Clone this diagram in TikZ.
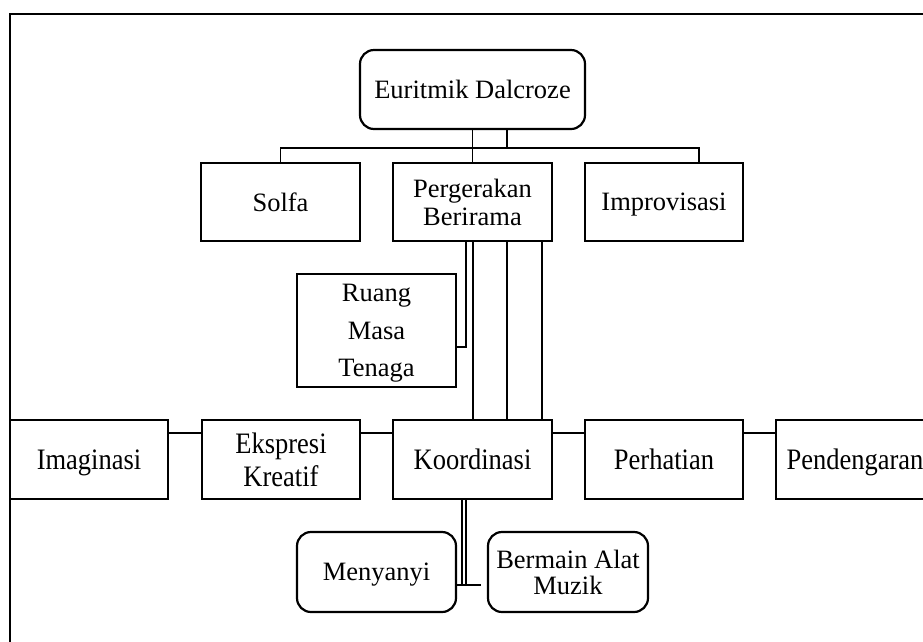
\documentclass[tikz,border=0pt]{standalone}
\usepackage{fontspec}
\usepackage{graphicx}
\setmainfont{Liberation Serif}
\tikzset{
  box/.style={draw, line width=2.2pt, rectangle, inner sep=0pt, align=center,
    font=\fontsize{26.5}{28}\selectfont, text depth=0pt},
  rbox/.style={box, rounded corners=14pt},
  conn/.style={line width=1.8pt},
  thinconn/.style={line width=1.2pt},
  frame/.style={line width=2pt}
}
\newcommand{\tall}[1]{\scalebox{1}[1.12]{#1}}
\begin{document}
\begin{tikzpicture}[x=1pt,y=-1pt]
\useasboundingbox (0,0) rectangle (923,641);
\draw[frame] (10,660) -- (10,14) -- (940,14);

\node[rbox, minimum width=225pt, minimum height=79pt] (eur) at (472.5,89.5) {Euritmik Dalcroze};
\node[box, minimum width=159pt, minimum height=78pt] (solfa) at (280.5,202) {Solfa};
\node[box, minimum width=159pt, minimum height=78pt] (perg) at (472.5,202) {Pergerakan\\Berirama};
\node[box, minimum width=158pt, minimum height=78pt] (impr) at (664,202) {Improvisasi};
\node[box, minimum width=159pt, minimum height=113pt, font=\fontsize{26.5}{37.5}\selectfont] (ruang) at (376.5,330.5) {Ruang\\Masa\\Tenaga};

\node[box, minimum width=158pt, minimum height=79pt] (imag) at (89,459.5) {\tall{Imaginasi}};
\node[box, minimum width=158pt, minimum height=79pt, font=\fontsize{26.5}{33}\selectfont] (eksp) at (281,459.5) {\tall{Ekspresi}\\\tall{Kreatif}};
\node[box, minimum width=159pt, minimum height=79pt] (koor) at (472.5,459.5) {\tall{Koordinasi}};
\node[box, minimum width=158pt, minimum height=79pt] (perh) at (664,459.5) {\tall{Perhatian}};
\node[box, minimum width=158pt, minimum height=79pt] (pend) at (855,459.5) {\tall{Pendengaran}};

\node[rbox, minimum width=159pt, minimum height=80pt] (meny) at (376.5,572) {Menyanyi};
\node[rbox, minimum width=160pt, minimum height=80pt, font=\fontsize{26.5}{26}\selectfont] (berm) at (568,572) {Bermain Alat\\Muzik};

% top connectors
\coordinate (busL) at (280.5,148);
\coordinate (busR) at (699,148);
\draw[conn] (eur.south) -- (perg.north);
\draw[conn] ([xshift=34.5pt]eur.south) -- ([xshift=34.5pt]eur.south |- busL);
\draw[conn] (solfa.north) -- (busL) -- (busR) -- (busR |- impr.north);

% Pergerakan to Ruang
\draw[thinconn] ([xshift=-6.5pt]perg.south) |- ([yshift=-16.5pt]ruang.east);

% Pergerakan to Koordinasi
\draw[line width=2pt] (perg.south) -- (koor.north);
\draw[conn] ([xshift=34.5pt]perg.south) -- ([xshift=34.5pt]koor.north);
\draw[thinconn] ([xshift=69.5pt]perg.south) -- ([xshift=69.5pt]koor.north);

% row connectors
\draw[conn] ([yshift=26.5pt]imag.east) -- ([yshift=26.5pt]eksp.west);
\draw[conn] ([yshift=26.5pt]eksp.east) -- ([yshift=26.5pt]koor.west);
\draw[conn] ([yshift=26.5pt]koor.east) -- ([yshift=26.5pt]perh.west);
\draw[conn] ([yshift=26.5pt]perh.east) -- ([yshift=26.5pt]pend.west);

% Koordinasi to bottom
\draw[thinconn] ([xshift=-10.5pt]koor.south) -- ([xshift=-10.5pt,yshift=-13pt]koor.south |- meny.east);
\draw[thinconn] ([xshift=-6.5pt]koor.south) -- ([xshift=-6.5pt,yshift=-13pt]koor.south |- meny.east);
\draw[conn] ([yshift=-13pt]meny.east) -- ([yshift=-13pt,xshift=-6pt]berm.west);
\end{tikzpicture}
\end{document}
